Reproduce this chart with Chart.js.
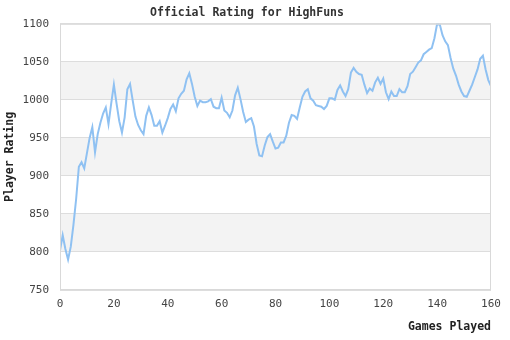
<!DOCTYPE html>
<html>
<head>
<meta charset="utf-8">
<script src="https://cdn.jsdelivr.net/npm/chart.js@4/dist/chart.umd.min.js"></script>
<style>
  html, body { margin: 0; padding: 0; background: #fff; }
  #wrap { width: 510px; height: 340px; }
</style>
</head>
<body>
<div id="wrap"><canvas id="ratingChart"></canvas></div>
<script>
const playerName = 'HighFuns';
// rating after each game, game 0 .. 160
const ratings = [
  802, 822, 804, 790, 807, 836, 870, 912, 918, 910,
  930, 950, 964, 931, 955, 970, 982, 990, 968, 995,
  1020, 995, 972, 957, 977, 1014, 1021, 999, 978, 967,
  960, 955, 979, 990, 980, 966, 966, 972, 957, 966,
  976, 988, 994, 985, 1002, 1008, 1012, 1027, 1035, 1021,
  1004, 992, 999, 997, 997, 998, 1001, 991, 989, 989,
  1003, 986, 983, 977, 986, 1006, 1016, 1001, 984, 971,
  974, 976, 965, 942, 927, 926, 940, 951, 955, 945,
  936, 937, 944, 944, 953, 970, 980, 979, 975, 990,
  1004, 1011, 1014, 1002, 999, 993, 992, 991, 988, 992,
  1002, 1002, 1000, 1013, 1019, 1011, 1005, 1014, 1036, 1042,
  1037, 1034, 1033, 1020, 1009, 1015, 1012, 1023, 1029, 1021,
  1028, 1010, 1001, 1011, 1005, 1005, 1014, 1010, 1010, 1018,
  1034, 1037, 1043, 1049, 1052, 1060, 1063, 1066, 1068, 1081,
  1100, 1099, 1085, 1077, 1072, 1055, 1041, 1032, 1020, 1011,
  1005, 1004, 1012, 1020, 1030, 1040, 1054, 1058, 1040, 1026,
  1018
];
const games = ratings.map((_, i) => i);
const yTicks = [750, 800, 850, 900, 950, 1000, 1050, 1100];
const xTicks = [0, 20, 40, 60, 80, 100, 120, 140, 160];

const mono = 'DejaVu Sans Mono, Liberation Mono, monospace';

// grey stripes every other 50 points, plus a frame round the plot
const stripes = {
  id: 'stripes',
  beforeDraw(chart) {
    const { ctx, chartArea: a, scales: { y } } = chart;
    ctx.save();
    ctx.fillStyle = '#f3f3f3';
    for (let i = 0; i < yTicks.length - 1; i++) {
      if (i % 2 === 1) {
        const top = y.getPixelForValue(yTicks[i + 1]);
        const bot = y.getPixelForValue(yTicks[i]);
        ctx.fillRect(a.left, top, a.right - a.left, bot - top);
      }
    }
    ctx.restore();
  },
  afterDatasetsDraw(chart) {
    const { ctx, chartArea: a } = chart;
    ctx.save();
    ctx.strokeStyle = '#d9d9d9';
    ctx.lineWidth = 1;
    ctx.strokeRect(a.left + 0.5, a.top + 0.5, a.right - a.left - 1, a.bottom - a.top - 1);
    ctx.restore();
  }
};

new Chart(document.getElementById('ratingChart'), {
  type: 'line',
  data: {
    labels: games,
    datasets: [{
      data: games.map((g, i) => ({ x: g, y: ratings[i] })),
      borderColor: '#8fc1f2',
      borderWidth: 2,
      pointRadius: 0,
      tension: 0,
      fill: false
    }]
  },
  options: {
    responsive: true,
    maintainAspectRatio: false,
    animation: false,
    layout: { padding: { left: 3, right: 19, top: 0, bottom: 6 } },
    plugins: {
      legend: { display: false },
      tooltip: { enabled: false },
      title: {
        display: true,
        text: 'Official Rating for ' + playerName,
        color: '#333',
        font: { family: mono, size: 11.5, weight: 'bold' },
        padding: { top: 6, bottom: 4 }
      }
    },
    scales: {
      x: {
        type: 'linear',
        min: 0, max: 160,
        afterBuildTicks: s => { s.ticks = xTicks.map(v => ({ value: v })); },
        grid: { display: false, drawTicks: false },
        border: { display: false },
        ticks: { color: '#444', font: { family: mono, size: 11 }, padding: 8, maxRotation: 0, callback: v => String(v) },
        title: {
          display: true, text: 'Games Played', align: 'end', color: '#222',
          font: { family: mono, size: 11.5, weight: 'bold' }, padding: { top: 1, bottom: 0 }
        }
      },
      y: {
        min: 750, max: 1100,
        afterBuildTicks: s => { s.ticks = yTicks.map(v => ({ value: v })); },
        afterFit: s => { s.width = 57; },
        grid: { color: '#dddddd', drawTicks: false },
        border: { display: false },
        ticks: { color: '#444', font: { family: mono, size: 11 }, padding: 11, callback: v => String(v) },
        title: {
          display: true, text: 'Player Rating', color: '#222',
          font: { family: mono, size: 11.5, weight: 'bold' }, padding: { top: 0, bottom: 4 }
        }
      }
    }
  },
  plugins: [stripes]
});
</script>
</body>
</html>
